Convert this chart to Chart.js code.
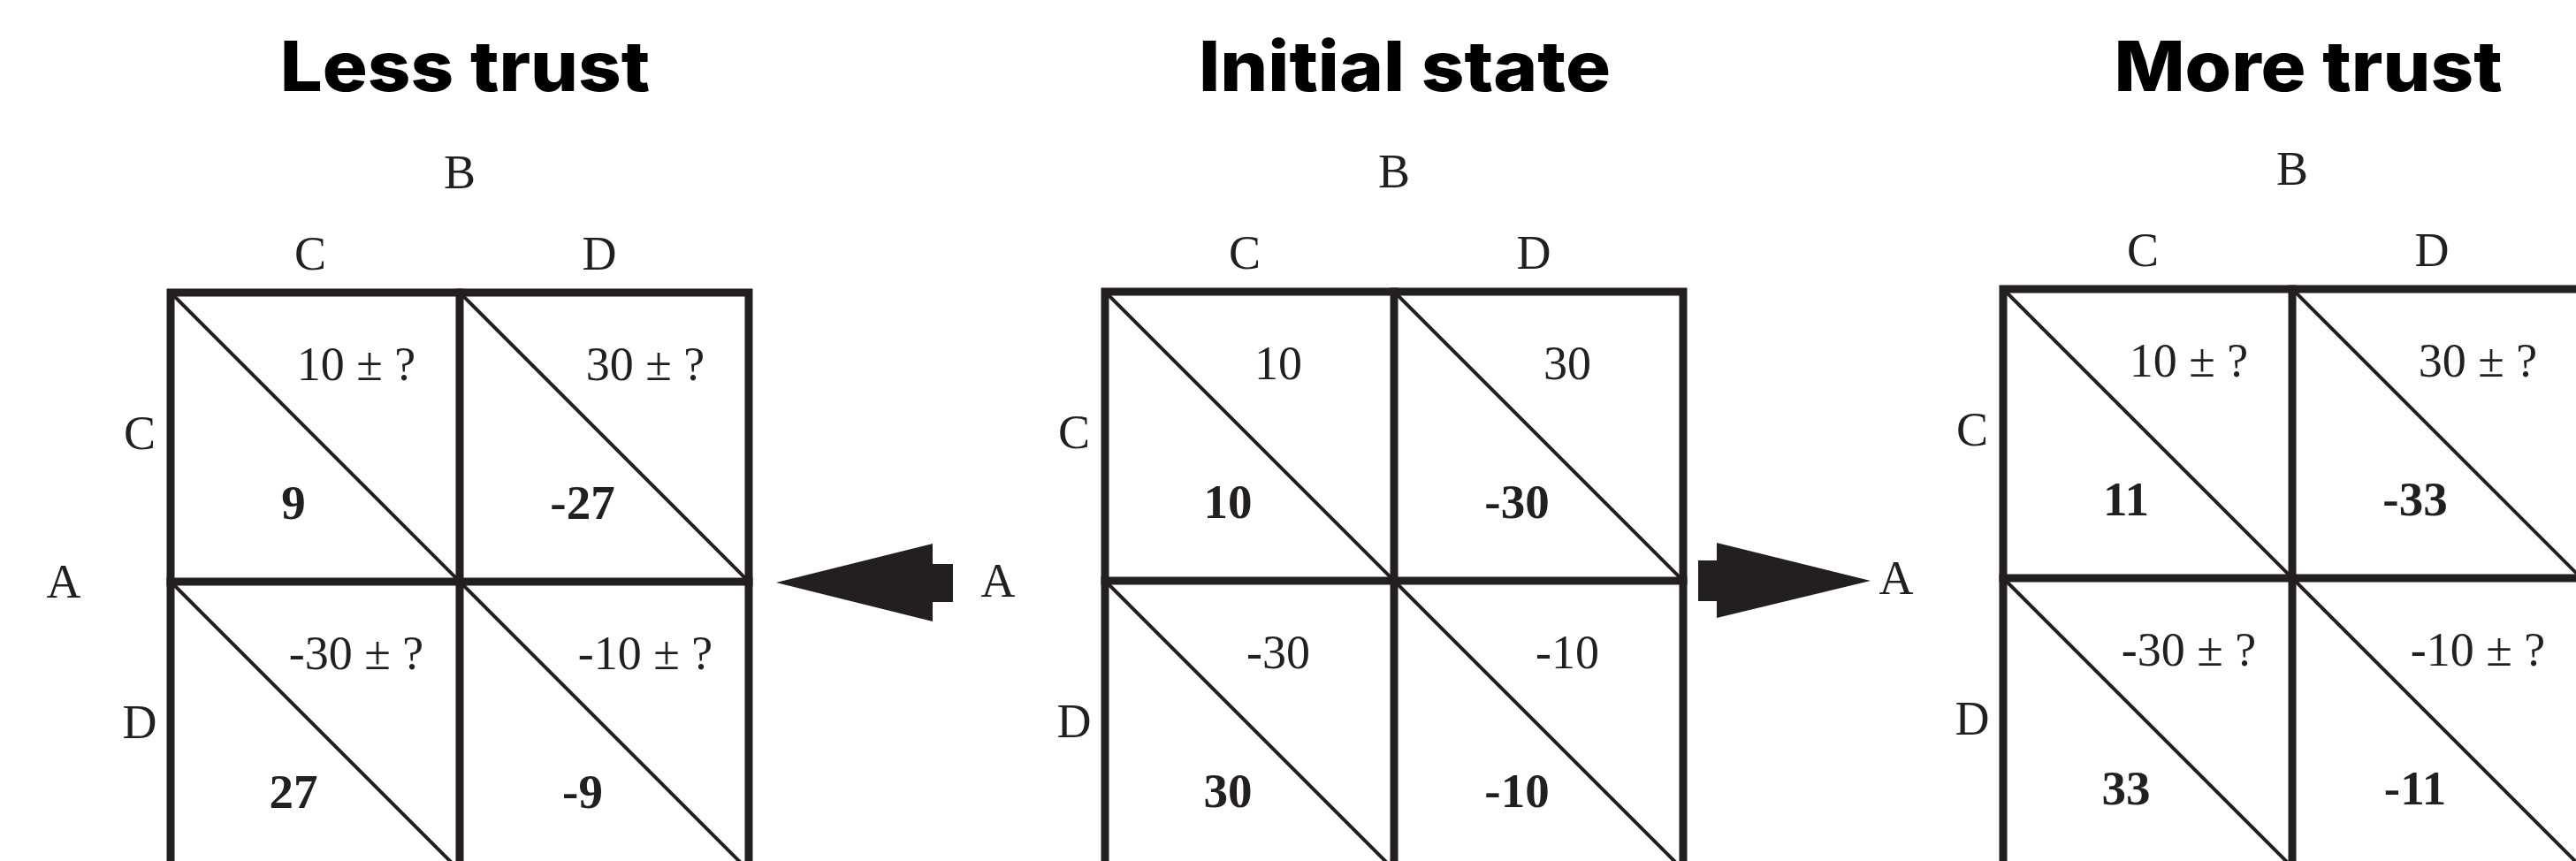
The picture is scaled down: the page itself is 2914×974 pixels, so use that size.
<!DOCTYPE html>
<html lang="en">
<head>
<meta charset="UTF-8">
<title>trust payoff matrices</title>
<script src="https://cdn.jsdelivr.net/npm/chart.js"></script>
<style>
  html, body { margin: 0; padding: 0; background: #fff; }
  #wrap { width: 2914px; height: 974px; }
</style>
</head>
<body>
<div id="wrap"><canvas id="matrixChart"></canvas></div>
<script>
const panelTitles = ['Less trust', 'Initial state', 'More trust']
const players = ['A', 'B']
const strategies = ['C', 'D']
// A's payoff (bold, lower-left triangle); cells CC, CD, DC, DD
const payoffA = [
  [9, -27, 27, -9],
  [10, -30, 30, -10],
  [11, -33, 33, -11]
]
// B's payoff (upper-right triangle), same cell order
const payoffB = [10, 30, -30, -10]
const uncertain = [true, false, true]

// where each grid sits, in canvas units
const origins = [[193, 331], [1250, 330], [2266, 327]]
const titleX = [526, 1589, 2611]
const cell = 327
const ink = '#231f20'
const serif = '"Liberation Serif", "Times New Roman", serif'

const datasets = []
function seg(points, width) {
  datasets.push({
    data: points.map(p => ({ x: p[0], y: p[1] })),
    showLine: true,
    borderColor: ink,
    borderWidth: width,
    pointRadius: 0,
    borderCapStyle: 'square',
    borderJoinStyle: 'miter',
    tension: 0,
    clip: 0
  })
}

origins.forEach(([ox, oy]) => {
  const r = ox + 2 * cell, b = oy + 2 * cell
  seg([[ox, oy], [r, oy], [r, b], [ox, b], [ox, oy]], 9)
  seg([[ox + cell, oy], [ox + cell, b]], 9)
  seg([[ox, oy + cell], [r, oy + cell]], 9)
  for (let i = 0; i < 2; i++) {
    for (let j = 0; j < 2; j++) {
      seg([[ox + j * cell, oy + i * cell], [ox + (j + 1) * cell, oy + (i + 1) * cell]], 4)
    }
  }
})

const annotate = {
  id: 'annotate',
  afterDatasetsDraw(chart) {
    const { ctx, scales: { x, y } } = chart
    const px = v => x.getPixelForValue(v)
    const py = v => y.getPixelForValue(v)

    function text(str, vx, vy, font, squeeze, color) {
      ctx.save()
      ctx.font = font
      ctx.fillStyle = color || ink
      ctx.textAlign = 'center'
      ctx.textBaseline = 'alphabetic'
      ctx.translate(px(vx), py(vy))
      ctx.scale(squeeze, 1)
      ctx.fillText(str, 0, 0)
      ctx.restore()
    }
    function poly(pts) {
      ctx.save()
      ctx.fillStyle = ink
      ctx.beginPath()
      pts.forEach((p, i) => i ? ctx.lineTo(px(p[0]), py(p[1])) : ctx.moveTo(px(p[0]), py(p[1])))
      ctx.closePath()
      ctx.fill()
      ctx.restore()
    }

    const plain = '54px ' + serif
    const bold = 'bold 55px ' + serif

    origins.forEach(([ox, oy], p) => {
      text(panelTitles[p], titleX[p], 103, '800 78px Inter', 1.09, '#000')
      text(players[1], ox + cell, oy - 118, plain, 1)
      strategies.forEach((s, k) => {
        text(s, ox + cell * k + 158, oy - 26, plain, 1)
        text(s, ox - 35, oy + cell * k + 177, plain, 1)
      })
      text(players[0], ox - 121, oy + cell + 18, plain, 1)

      for (let c = 0; c < 4; c++) {
        const row = Math.floor(c / 2), col = c % 2
        const cx = ox + col * cell, cy = oy + row * cell
        const top = uncertain[p] ? payoffB[c] + ' \u00b1 ?' : String(payoffB[c])
        text(top, cx + (uncertain[p] ? 210 : 196), cy + 99, plain, 1)
        text(String(payoffA[p][c]), cx + 139, cy + 256, bold, 1)
      }
    })

    // arrows out of the initial state
    const [mx, my] = origins[1]
    const yc = my + cell + 2
    const xl = mx
    poly([[xl - 372, yc], [xl - 195, yc - 44], [xl - 195, yc - 21], [xl - 172, yc - 21],
          [xl - 172, yc + 22], [xl - 195, yc + 22], [xl - 195, yc + 44]])
    const xr = mx + 2 * cell
    const yr = my + cell
    poly([[xr + 17, yr - 23], [xr + 38, yr - 23], [xr + 38, yr - 43], [xr + 212, yr],
          [xr + 38, yr + 42], [xr + 38, yr + 23], [xr + 17, yr + 23]])
  }
}

const chart = new Chart(document.getElementById('matrixChart'), {
  type: 'scatter',
  data: { datasets },
  options: {
    responsive: true,
    maintainAspectRatio: false,
    animation: false,
    layout: { padding: 0 },
    scales: {
      x: { type: 'linear', min: 0, max: 2914, display: false },
      y: { type: 'linear', min: 0, max: 974, reverse: true, display: false }
    },
    plugins: {
      legend: { display: false },
      tooltip: { enabled: false }
    }
  },
  plugins: [annotate]
})
</script>
</body>
</html>
